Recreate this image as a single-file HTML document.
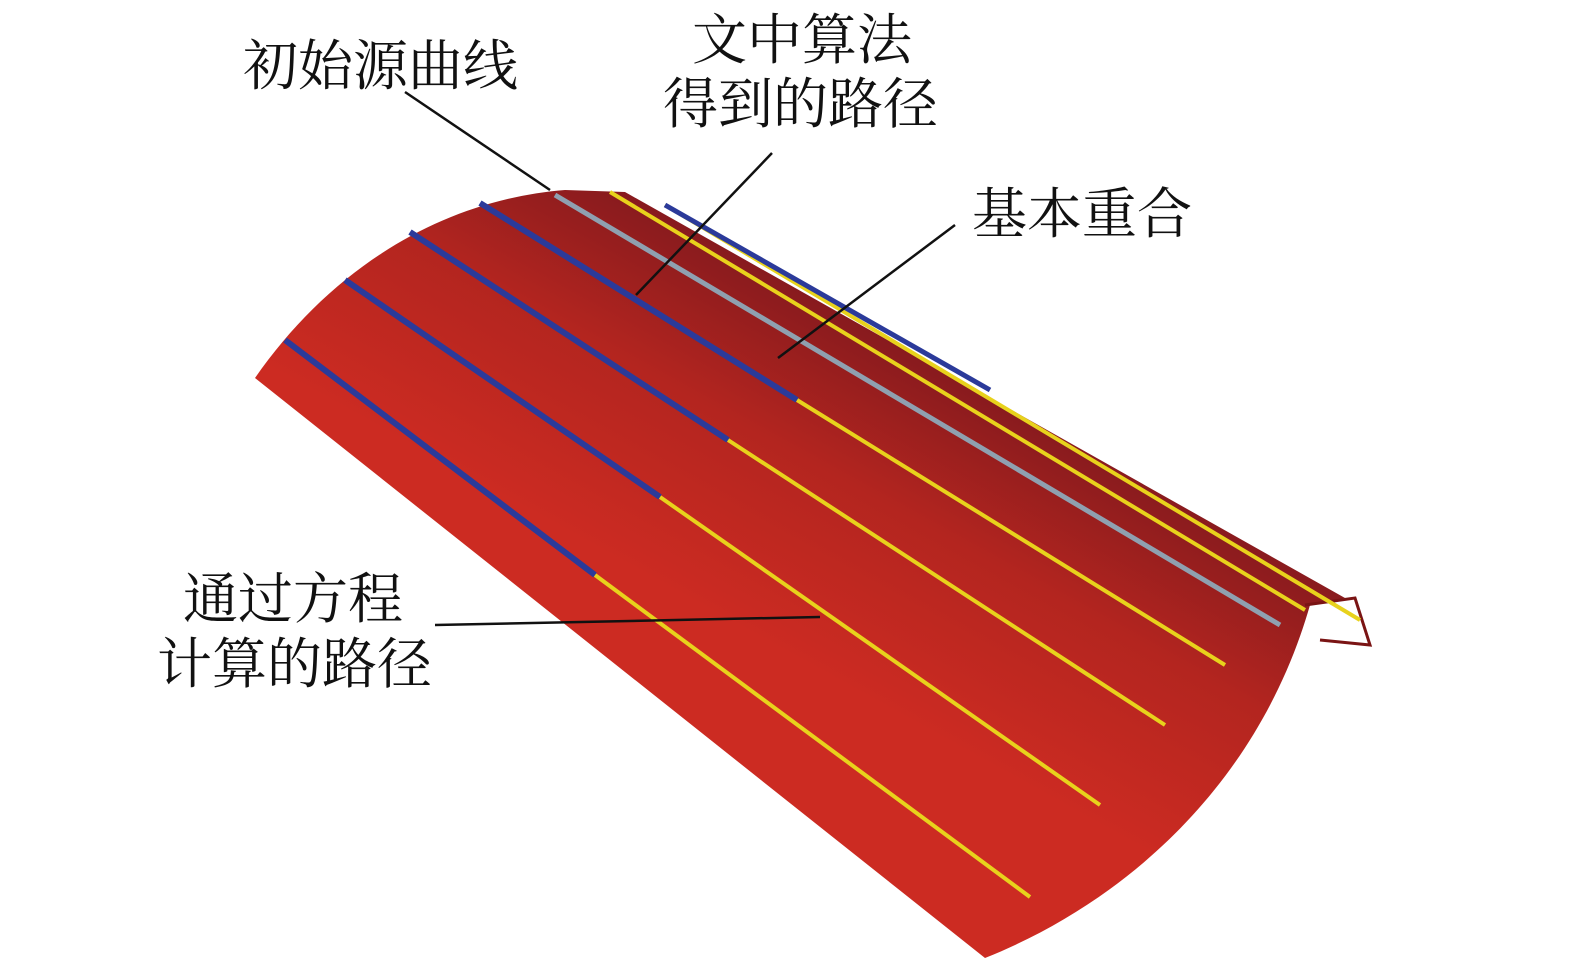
<!DOCTYPE html>
<html><head><meta charset="utf-8"><style>
html,body{margin:0;padding:0;background:#fff;}
svg{display:block}
text{font-family:"Liberation Serif","Noto Serif CJK SC",serif;font-size:55px;fill:#111}
</style></head><body>
<svg width="1575" height="979" viewBox="0 0 1575 979" xmlns="http://www.w3.org/2000/svg">
<defs>
<linearGradient id="g" x1="720" y1="240" x2="560" y2="530" gradientUnits="userSpaceOnUse">
<stop offset="0" stop-color="#861a1e"/>
<stop offset="0.45" stop-color="#b3251f"/>
<stop offset="1" stop-color="#cc2b22"/>
</linearGradient>
</defs>
<path d="M255,378 C330,270 440,200 565,190 L625,192 L1345,598 L1310,605 C1260,780 1130,900 985,958 Z" fill="url(#g)"/>
<path d="M1305,605 L1355,598 L1370,645 L1320,640" fill="none" stroke="#7a1414" stroke-width="3"/>
<g stroke-width="4" fill="none">
<line x1="595" y1="575" x2="1030" y2="897" stroke="#e8d21c"/>
<line x1="285" y1="340" x2="595" y2="575" stroke="#2b3a9a" stroke-width="6"/>
<line x1="660" y1="497" x2="1100" y2="805" stroke="#e8d21c"/>
<line x1="345" y1="280" x2="660" y2="497" stroke="#2b3a9a" stroke-width="6"/>
<line x1="728" y1="440" x2="1165" y2="725" stroke="#e8d21c"/>
<line x1="410" y1="232" x2="728" y2="440" stroke="#2b3a9a" stroke-width="6"/>
<line x1="797" y1="400" x2="1225" y2="665" stroke="#e8d21c"/>
<line x1="480" y1="203" x2="797" y2="400" stroke="#2b3a9a" stroke-width="6"/>
<line x1="555" y1="195" x2="1280" y2="625" stroke="#8fa0b0" stroke-width="5"/>
<line x1="610" y1="192" x2="1305" y2="610" stroke="#e8d21c"/>
<line x1="665" y1="205" x2="1360" y2="620" stroke="#e8d21c"/>
<line x1="665" y1="205" x2="990" y2="390" stroke="#2b3a9a" stroke-width="5"/>
</g>
<g stroke="#111" stroke-width="2.5">
<line x1="405" y1="92" x2="550" y2="190"/>
<line x1="772" y1="153" x2="636" y2="295"/>
<line x1="955" y1="225" x2="778" y2="358"/>
<line x1="435" y1="625" x2="820" y2="617"/>
</g>
<text x="243" y="85">初始源曲线</text>
<text x="692" y="59">文中算法</text>
<text x="663" y="123">得到的路径</text>
<text x="972" y="233">基本重合</text>
<text x="183" y="618">通过方程</text>
<text x="157" y="683">计算的路径</text>
</svg>
</body></html>
